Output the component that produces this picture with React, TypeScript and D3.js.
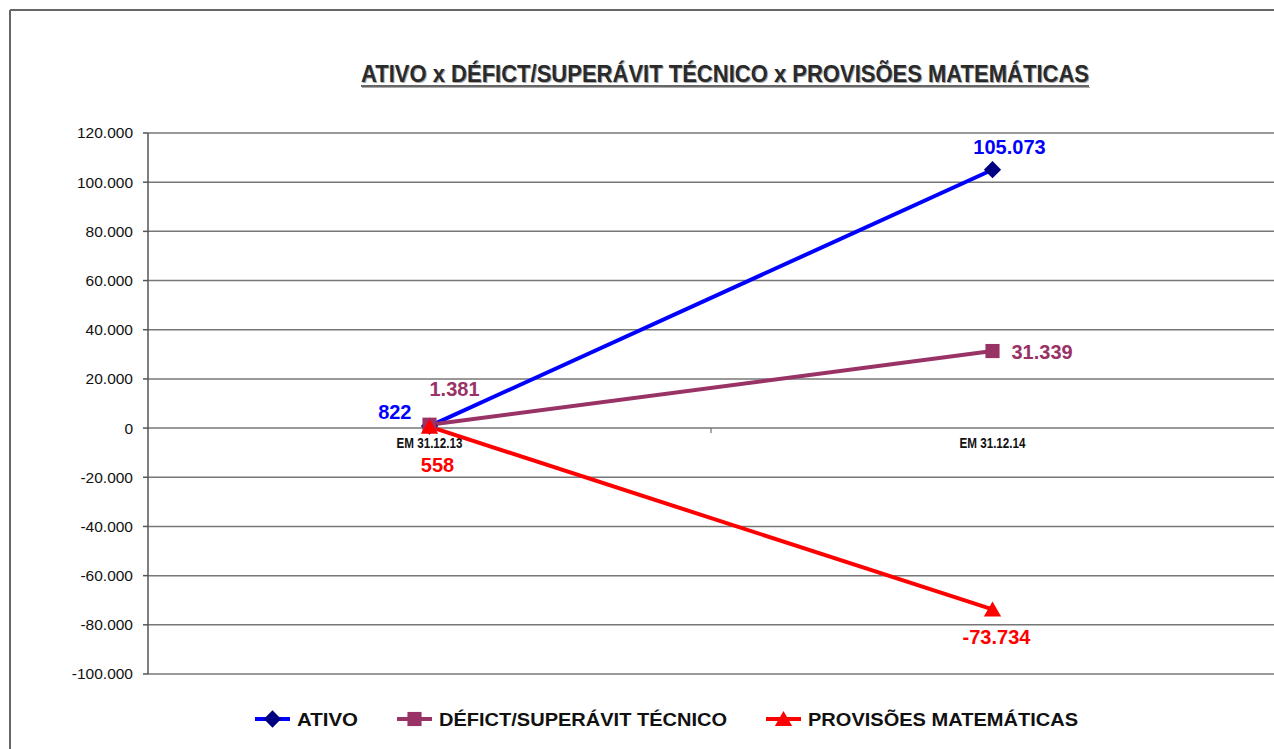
import * as d3 from 'd3';

const WIDTH = 1274;
const HEIGHT = 749;
const MARGIN = { top: 133, right: 0, bottom: 75, left: 148 };

const categories = ['EM 31.12.13', 'EM 31.12.14'];
const ativo = [822, 105073];
const deficit = [1381, 31339];
const provisoes = [558, -73734];
const yTicks = [-100000, -80000, -60000, -40000, -20000, 0, 20000, 40000, 60000, 80000, 100000, 120000];

const TITLE = 'ATIVO x DÉFICT/SUPERÁVIT TÉCNICO x PROVISÕES MATEMÁTICAS';

type Series = {
  name: string;
  values: number[];
  line: string;
  marker: string;
  label: string;
  shape: 'diamond' | 'square' | 'triangle';
  // label offsets from each point: dx, dy, anchor
  offsets: [number, number, string][];
};

const series: Series[] = [
  {
    name: 'ATIVO', values: ativo, line: '#0000ff', marker: '#000080', label: '#0000ff', shape: 'diamond',
    offsets: [[-18, -7, 'end'], [17, -16, 'middle']],
  },
  {
    name: 'DÉFICT/SUPERÁVIT TÉCNICO', values: deficit, line: '#993366', marker: '#993366', label: '#993366', shape: 'square',
    offsets: [[25, -29, 'middle'], [19, 8, 'start']],
  },
  {
    name: 'PROVISÕES MATEMÁTICAS', values: provisoes, line: '#ff0000', marker: '#ff0000', label: '#ff0000', shape: 'triangle',
    offsets: [[8, 45, 'middle'], [4, 35, 'middle']],
  },
];

const ptBR = d3.formatLocale({ decimal: ',', thousands: '.', grouping: [3], currency: ['R$', ''], minus: '-' });
const fmt = ptBR.format(',.0f');

const symbolPath = (shape: string, size: number) => {
  const type = shape === 'diamond' ? d3.symbolDiamond2 : shape === 'square' ? d3.symbolSquare : d3.symbolTriangle;
  return d3.symbol().type(type).size(size)() || '';
};

const Marker = ({ shape, color, x, y }: { shape: string; color: string; x: number; y: number }) => {
  const size = shape === 'diamond' ? 190 : shape === 'square' ? 200 : 130;
  const dy = shape === 'triangle' ? 2 : 0;
  return <path d={symbolPath(shape, size)} transform={`translate(${x},${y + dy})`} fill={color} />;
};

export default function App() {
  const boundsWidth = WIDTH - MARGIN.left - MARGIN.right;
  const boundsHeight = HEIGHT - MARGIN.top - MARGIN.bottom;

  const xScale = d3.scaleBand().domain(categories).range([0, boundsWidth]);
  const yScale = d3.scaleLinear().domain([-100000, 120000]).range([boundsHeight, 0]);
  const cx = (c: string) => (xScale(c) || 0) + xScale.bandwidth() / 2;

  const lineBuilder = d3
    .line<number>()
    .x((_, i) => cx(categories[i]))
    .y((d) => yScale(d));

  const legendItems = [
    { x: 255, width: 61 },
    { x: 397, width: 288 },
    { x: 766, width: 270 },
  ];

  return (
    <svg
      width={WIDTH}
      height={HEIGHT}
      style={{ position: 'absolute', left: 0, top: 0, fontFamily: 'Arial, "Liberation Sans", sans-serif' }}
    >
      <rect width={WIDTH} height={HEIGHT} fill="#fff" />
      {/* outer frame */}
      <line x1={10} x2={WIDTH} y1={10} y2={10} stroke="#666" strokeWidth={2} />
      <line x1={10} x2={10} y1={10} y2={HEIGHT} stroke="#666" strokeWidth={2} />

      {/* title */}
      <g>
        <text x={726} y={83} textAnchor="middle" fontSize={23} fontWeight="bold" fill="#aaa" textLength={728} lengthAdjust="spacingAndGlyphs">
          {TITLE}
        </text>
        <text x={725} y={82} textAnchor="middle" fontSize={23} fontWeight="bold" fill="#2a2a2a" textLength={728} lengthAdjust="spacingAndGlyphs">
          {TITLE}
        </text>
        <line x1={361} x2={1089} y1={86} y2={86} stroke="#333" strokeWidth={1.5} />
        <line x1={362} x2={1090} y1={87.5} y2={87.5} stroke="#aaa" strokeWidth={1} />
      </g>

      <g transform={`translate(${MARGIN.left},${MARGIN.top})`}>
        {/* gridlines */}
        {yTicks.map((t) => (
          <g key={t}>
            <line x1={0} x2={boundsWidth} y1={yScale(t)} y2={yScale(t)} stroke="#777" strokeWidth={1.5} />
            <line x1={-5} x2={0} y1={yScale(t)} y2={yScale(t)} stroke="#555" strokeWidth={1.5} />
            <text x={-15} y={yScale(t)} dy="0.35em" textAnchor="end" fontSize={15.5} fill="#111">
              {fmt(t)}
            </text>
          </g>
        ))}
        <line x1={0} x2={0} y1={0} y2={boundsHeight} stroke="#555" strokeWidth={1.5} />
        {/* category axis on zero line */}
        <line x1={xScale.bandwidth()} x2={xScale.bandwidth()} y1={yScale(0)} y2={yScale(0) + 5} stroke="#555" strokeWidth={1} />
        {categories.map((c) => (
          <text key={c} x={cx(c)} y={yScale(0) + 20} textAnchor="middle" fontSize={14} fontWeight="bold" fill="#111" textLength={66} lengthAdjust="spacingAndGlyphs">
            {c}
          </text>
        ))}

        {/* lines */}
        {series.map((s) => (
          <path key={s.name} d={lineBuilder(s.values) || ''} fill="none" stroke={s.line} strokeWidth={4} />
        ))}
        {/* markers */}
        {series.map((s) => (
          <g key={s.name + '-m'}>
            {s.values.map((v, i) => (
              <Marker key={i} shape={s.shape} color={s.marker} x={cx(categories[i])} y={yScale(v)} />
            ))}
          </g>
        ))}
        {/* data labels */}
        {series.map((s) => (
          <g key={s.name + '-l'}>
            {s.values.map((v, i) => (
              <text
                key={i}
                x={cx(categories[i]) + s.offsets[i][0]}
                y={yScale(v) + s.offsets[i][1]}
                textAnchor={s.offsets[i][2]}
                fontSize={20}
                fontWeight="bold"
                fill={s.label}
              >
                {fmt(v)}
              </text>
            ))}
          </g>
        ))}
      </g>

      {/* legend */}
      {series.map((s, i) => (
        <g key={s.name + '-leg'} transform={`translate(${legendItems[i].x},719)`}>
          <line x1={0} x2={35} y1={0} y2={0} stroke={s.line} strokeWidth={4} />
          <Marker shape={s.shape} color={s.marker} x={17.5} y={0} />
          <text x={42} y={7} fontSize={19} fontWeight="bold" fill="#111" textLength={legendItems[i].width} lengthAdjust="spacingAndGlyphs">
            {s.name}
          </text>
        </g>
      ))}
    </svg>
  );
}
